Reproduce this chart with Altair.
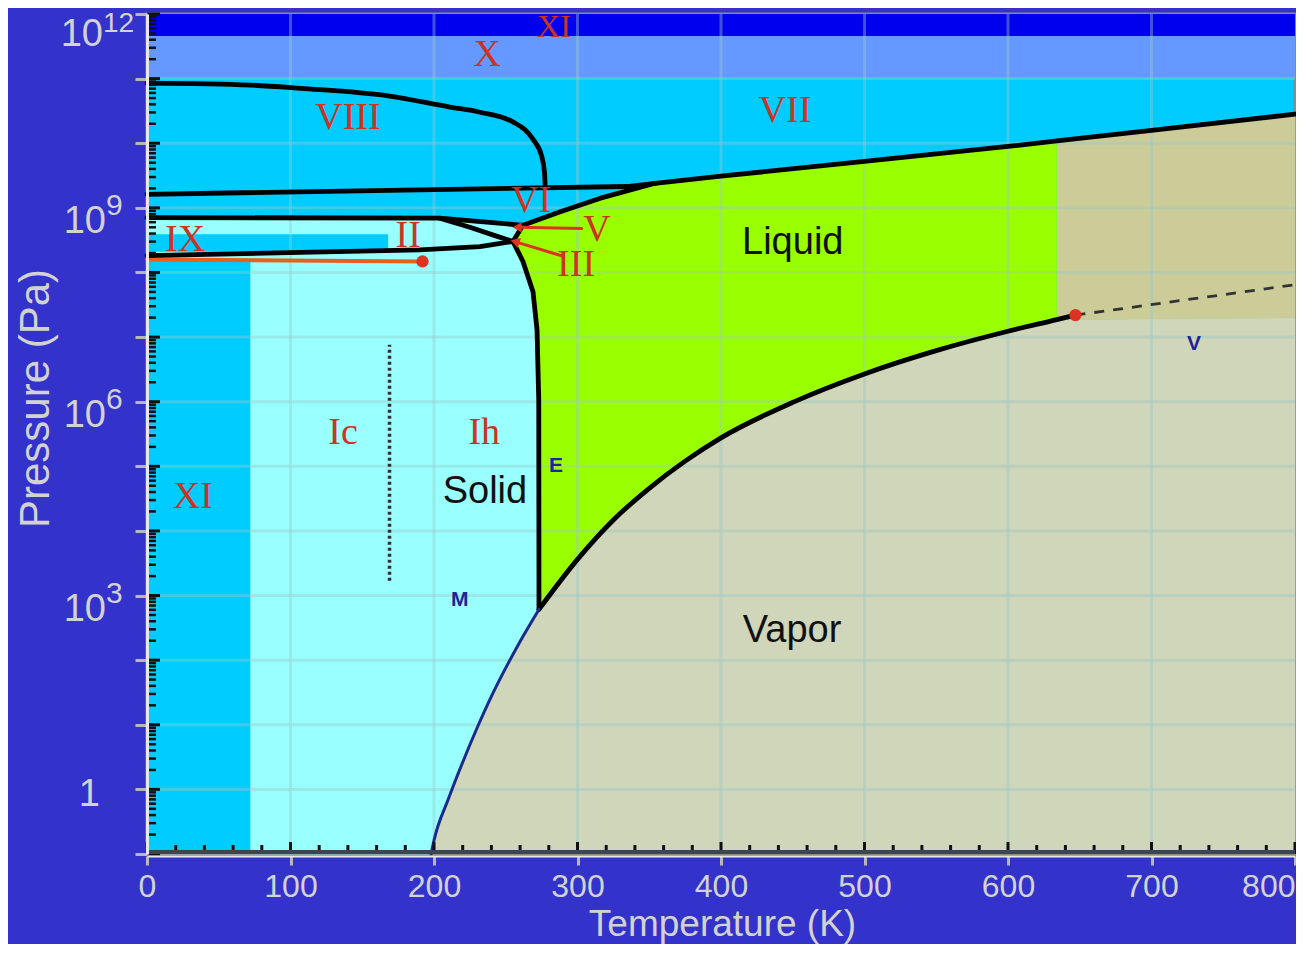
import altair as alt
import pandas as pd
import numpy as np

# ---------------- data (T in K, L = log10(P / Pa)) -------------
viii_T = [0, 72, 107, 169, 211, 232, 255, 269, 275, 277, 277.4]
viii_L = [10.93, 10.90, 10.85, 10.73, 10.56, 10.48, 10.33, 10.06, 9.80, 9.55, 9.36]
vi_vii_T = [0, 334.5, 354]
vi_vii_L = [9.21, 9.33, 9.38]
vii_melt_T = [354, 400, 500, 600, 634, 700, 800]
vii_melt_L = [9.38, 9.49, 9.72, 9.95, 10.035, 10.20, 10.45]
vi_melt_T = [262, 288, 316, 354]
vi_melt_L = [8.73, 8.94, 9.15, 9.38]
lineA_T = [0, 204, 262]
lineA_L = [8.85, 8.84, 8.73]
lineB_T = [204, 225, 242.5, 255]
lineB_L = [8.84, 8.70, 8.57, 8.48]
lineC_T = [0, 107, 190, 232, 255]
lineC_L = [8.26, 8.31, 8.35, 8.40, 8.48]
junction_T = [255, 262]
junction_L = [8.48, 8.73]
ih_melt_T = [255, 262, 269, 271.8, 273, 273.16]
ih_melt_L = [8.48, 8.17, 7.70, 7.11, 6.02, 2.786]
vap_T = [273.16, 300, 325, 350, 375, 400, 450, 500, 550, 600, 634, 647]
vap_L = [2.786, 3.56, 4.17, 4.66, 5.08, 5.44, 5.99, 6.43, 6.79, 7.09, 7.27, 7.34]
sub_T = [198, 200, 210, 220, 230, 240, 250, 260, 273.16]
sub_L = [-1.0, -0.79, -0.15, 0.42, 0.95, 1.44, 1.88, 2.29, 2.786]
super_T = [647, 800]
super_L = [7.34, 7.81]
orange_T = [0, 192]
orange_L = [8.20, 8.17]
dotted_T = [169, 169]
dotted_L = [3.23, 6.88]
crit_T = [647]
crit_L = [7.34]
ii_end_T = [192]
ii_end_L = [8.17]

# rectangular bands / boxes
band_T1 = [0, 0, 0, 0]
band_T2 = [800, 800, 72, 168]
band_L1 = [11.66, 11.02, -1.0, 8.32]
band_L2 = [12.0, 11.66, 8.20, 8.59]
band_col = ["#0000ee", "#6699ff", "#00ccff", "#00ccff"]

tan_left_T = 634
tan_bottom_L = 7.30

# labels
top_text = ["XI"]
top_T = [283.6]
top_L = [11.80]
red_text = ["X", "VIII", "VII", "VI", "V", "III", "II", "IX", "Ic", "Ih", "XI"]
red_T = [237, 140, 444.6, 267.6, 313.6, 299, 182, 26.5, 136.6, 235, 32]
red_L = [11.37, 10.39, 10.50, 9.11, 8.66, 8.11, 8.57, 8.51, 5.51, 5.51, 4.52]
blk_text = ["Solid", "Liquid", "Vapor"]
blk_T = [235.5, 450, 449.5]
blk_L = [4.60, 8.46, 2.45]
nav_text = ["E", "M", "V"]
nav_T = [285, 218, 729.6]
nav_L = [5.0, 2.93, 6.89]

arrow1_T = [303, 259]
arrow1_L = [8.68, 8.70]
arrow2_T = [290, 257.5]
arrow2_L = [8.25, 8.47]

x_ticks = [0, 100, 200, 300, 400, 500, 600, 700, 800]
y_decades = list(range(-1, 13))
y_label_L = [9, 6, 3]
y_label_exp = ["9", "6", "3"]
y_top_L = [12]
y_top_exp = ["12"]

W, H = 1148, 840
BG = "#3333cc"
TXT = "#d2d2d2"
FONT = "Liberation Sans"
SERIF = "Liberation Serif"
RED = "#cc3322"

xscale = alt.Scale(domain=[0, 800], nice=False, zero=False)
yscale = alt.Scale(domain=[-1, 12], nice=False, zero=False)

x_axis = alt.Axis(values=x_ticks, grid=False, labelFontSize=32, labelColor=TXT, labelFont=FONT,
                  labelPadding=6, labelFlush=False, labelOverlap=False,
                  labelAlign={"condition": {"test": "datum.value == 800", "value": "right"}, "value": "center"},
                  tickColor="#b8b8b8", tickSize=9, tickWidth=3, domainColor="#e8e8e8", domainWidth=2,
                  offset=2, title="Temperature (K)", titleFont=FONT, titleFontSize=37,
                  titleFontWeight="normal", titleColor=TXT, titleX=575, titleY=68,
                  titleBaseline="middle", titleAlign="center", zindex=1)
y_axis = alt.Axis(values=y_decades, grid=False, labels=False,
                  tickColor="#b8b8b8", tickSize=12, tickWidth=3, domainColor="#e8e8e8", domainWidth=3,
                  title="Pressure (Pa)", titleFont=FONT, titleFontSize=42, titleFontWeight="normal",
                  titleColor=TXT, titleX=-112, titleY=384, titleAngle=270, titleAlign="center",
                  titleBaseline="middle", zindex=1)


def X(f="T"):
    return alt.X(f"{f}:Q", scale=xscale, axis=x_axis)


def Y(f="L"):
    return alt.Y(f"{f}:Q", scale=yscale, axis=y_axis)


def frame(Ts, Ls):
    return pd.DataFrame({"T": list(Ts), "L": list(Ls), "i": list(range(len(Ts)))})


def poly(Ts, Ls, color):
    return alt.Chart(frame(Ts, Ls)).mark_line(fill=color, stroke=color, strokeWidth=0.5).encode(
        x=X(), y=Y(), order="i:Q")


def curve(Ts, Ls, color="#000000", width=4.8, dash=None, interp="linear"):
    kw = dict(color=color, strokeWidth=width, interpolate=interp, strokeJoin="round")
    if dash is not None:
        kw["strokeDash"] = dash
    else:
        kw["strokeCap"] = "round"
    return alt.Chart(frame(Ts, Ls)).mark_line(**kw).encode(x=X(), y=Y(), order="i:Q")


layers = []

bands = pd.DataFrame({"T": band_T1, "T2": band_T2, "L": band_L1, "L2": band_L2, "c": band_col})
layers.append(alt.Chart(bands.iloc[:2]).mark_rect().encode(
    x=X(), x2="T2:Q", y=Y(), y2="L2:Q", color=alt.Color("c:N", scale=None)))

# light-cyan solid region (II, Ih, Ic)
lc_T = lineA_T + [junction_T[0]] + ih_melt_T[1:] + sub_T[::-1][1:] + [0]
lc_L = lineA_L + [junction_L[0]] + ih_melt_L[1:] + sub_L[::-1][1:] + [-1.0]
layers.append(poly(lc_T, lc_L, "#99ffff"))

layers.append(alt.Chart(bands.iloc[2:]).mark_rect().encode(
    x=X(), x2="T2:Q", y=Y(), y2="L2:Q", color=alt.Color("c:N", scale=None)))

# vapor
vp_T = sub_T + vap_T[1:11] + [800, 800]
vp_L = sub_L + vap_L[1:11] + [tan_bottom_L, -1.0]
layers.append(poly(vp_T, vp_L, "#cfd6ba"))

# supercritical (tan)
tn_T = [tan_left_T, 800, 800, 700, tan_left_T]
tn_L = [vap_L[10], tan_bottom_L, vii_melt_L[-1], vii_melt_L[-2], vii_melt_L[4]]
layers.append(poly(tn_T, tn_L, "#cccc99"))

# liquid
lq_T = ih_melt_T[::-1] + [junction_T[1]] + vi_melt_T[1:] + vii_melt_T[1:5] + [tan_left_T] + vap_T[1:10][::-1]
lq_L = ih_melt_L[::-1] + [junction_L[1]] + vi_melt_L[1:] + vii_melt_L[1:5] + [vap_L[10]] + vap_L[1:10][::-1]
layers.append(poly(lq_T, lq_L, "#99ff00"))

# grid
gx = pd.DataFrame({"T": x_ticks[1:-1]})
gy = pd.DataFrame({"L": y_decades[1:-1]})
layers.append(alt.Chart(gx).mark_rule(color="#9cc8c8", opacity=0.4, strokeWidth=3).encode(x=X()))
layers.append(alt.Chart(gy).mark_rule(color="#9cc8c8", opacity=0.4, strokeWidth=3).encode(y=Y()))

# boundaries
layers.append(curve(orange_T, orange_L, "#e8601c", 4))
layers.append(curve(viii_T, viii_L, interp="monotone"))
for Ts, Ls in [(vi_vii_T, vi_vii_L), (vii_melt_T, vii_melt_L), (vi_melt_T, vi_melt_L),
               (lineA_T, lineA_L), (lineB_T, lineB_L), (lineC_T, lineC_L), (junction_T, junction_L),
               (ih_melt_T, ih_melt_L)]:
    layers.append(curve(Ts, Ls))
layers.append(curve(vap_T, vap_L, interp="monotone"))
layers.append(curve(sub_T, sub_L, "#1a2a8a", 3, interp="monotone"))
layers.append(curve(super_T, super_L, "#333333", 2.8, dash=[10, 9]))
layers.append(curve(dotted_T, dotted_L, "#303030", 3.5, dash=[3, 3]))

# red dots
dots = pd.DataFrame({"T": crit_T + ii_end_T, "L": crit_L + ii_end_L})
layers.append(alt.Chart(dots).mark_circle(color="#dd3322", opacity=1, size=150).encode(x=X(), y=Y()))

# arrows
layers.append(curve(arrow1_T, arrow1_L, "#dd3322", 3))
layers.append(curve(arrow2_T, arrow2_L, "#dd3322", 3))
heads = pd.DataFrame({"T": [arrow1_T[1], arrow2_T[1]], "L": [arrow1_L[1], arrow2_L[1]], "a": [270, 288]})
layers.append(alt.Chart(heads).mark_point(shape="triangle", filled=True, color="#dd3322", opacity=1, size=110)
              .encode(x=X(), y=Y(), angle=alt.Angle("a:Q", scale=None)))

# labels
rt = pd.DataFrame({"T": red_T, "L": red_L, "t": red_text})
layers.append(alt.Chart(rt).mark_text(font=SERIF, fontSize=38, color=RED, baseline="middle")
              .encode(x=X(), y=Y(), text="t:N"))
tt = pd.DataFrame({"T": top_T, "L": top_L, "t": top_text})
layers.append(alt.Chart(tt).mark_text(font=SERIF, fontSize=32, color=RED, baseline="middle")
              .encode(x=X(), y=Y(), text="t:N"))
bt = pd.DataFrame({"T": blk_T, "L": blk_L, "t": blk_text})
layers.append(alt.Chart(bt).mark_text(font=FONT, fontSize=38, color="#111111", baseline="middle")
              .encode(x=X(), y=Y(), text="t:N"))
nt = pd.DataFrame({"T": nav_T, "L": nav_L, "t": nav_text})
layers.append(alt.Chart(nt).mark_text(font=FONT, fontSize=21, fontWeight="bold", color="#22229a",
                                      baseline="middle").encode(x=X(), y=Y(), text="t:N"))

# inner ticks
xmaj = pd.DataFrame({"T": x_ticks})
xmin = pd.DataFrame({"T": [t for t in range(0, 801, 20) if t % 100]})
layers.append(alt.Chart(xmaj).mark_rule(color="#111111", strokeWidth=3)
              .encode(x=X(), y=alt.value(H), y2=alt.value(H - 12)))
layers.append(alt.Chart(xmin).mark_rule(color="#111111", strokeWidth=3)
              .encode(x=X(), y=alt.value(H), y2=alt.value(H - 9)))
ymaj = pd.DataFrame({"L": y_decades})
ymin = pd.DataFrame({"L": [n + np.log10(k) for n in range(-1, 12) for k in range(2, 10)]})
layers.append(alt.Chart(ymaj).mark_rule(color="#111111", strokeWidth=3)
              .encode(y=Y(), x=alt.value(0), x2=alt.value(13)))
layers.append(alt.Chart(ymin).mark_rule(color="#111111", strokeWidth=2.5)
              .encode(y=Y(), x=alt.value(0), x2=alt.value(9)))
layers.append(alt.Chart(pd.DataFrame({"L": [-1.0]})).mark_rule(color="#3d4650", strokeWidth=4, yOffset=-2)
              .encode(y=Y()))

# y tick labels with superscripts
yl = pd.DataFrame({"L": y_label_L, "e": y_label_exp, "b": ["10"] * len(y_label_L)})
layers.append(alt.Chart(yl).mark_text(font=FONT, fontSize=38, color=TXT, align="right", baseline="middle", dy=14)
              .encode(y=Y(), x=alt.value(-41), text="b:N"))
layers.append(alt.Chart(yl).mark_text(font=FONT, fontSize=30, color=TXT, align="left", baseline="middle", dy=-2)
              .encode(y=Y(), x=alt.value(-41), text="e:N"))
yt = pd.DataFrame({"L": y_top_L, "e": y_top_exp, "b": ["10"]})
layers.append(alt.Chart(yt).mark_text(font=FONT, fontSize=38, color=TXT, align="right", baseline="middle", dy=21)
              .encode(y=Y(), x=alt.value(-44), text="b:N"))
layers.append(alt.Chart(yt).mark_text(font=FONT, fontSize=28, color=TXT, align="left", baseline="middle", dy=10)
              .encode(y=Y(), x=alt.value(-44), text="e:N"))
layers.append(alt.Chart(pd.DataFrame({"L": [0], "b": ["1"]})).mark_text(
    font=FONT, fontSize=38, color=TXT, align="right", baseline="middle", dy=6)
    .encode(y=Y(), x=alt.value(-47), text="b:N"))

chart = alt.layer(*layers).properties(
    width=W, height=H,
    autosize=alt.AutoSizeParams(type="none"),
    padding={"left": 139, "top": 6, "right": 1, "bottom": 90},
    background=BG,
).configure_view(fill="#00ccff", stroke="#8a8a8a", strokeWidth=3)

chart.save("out.html", embed_options={"renderer": "svg", "actions": False})
